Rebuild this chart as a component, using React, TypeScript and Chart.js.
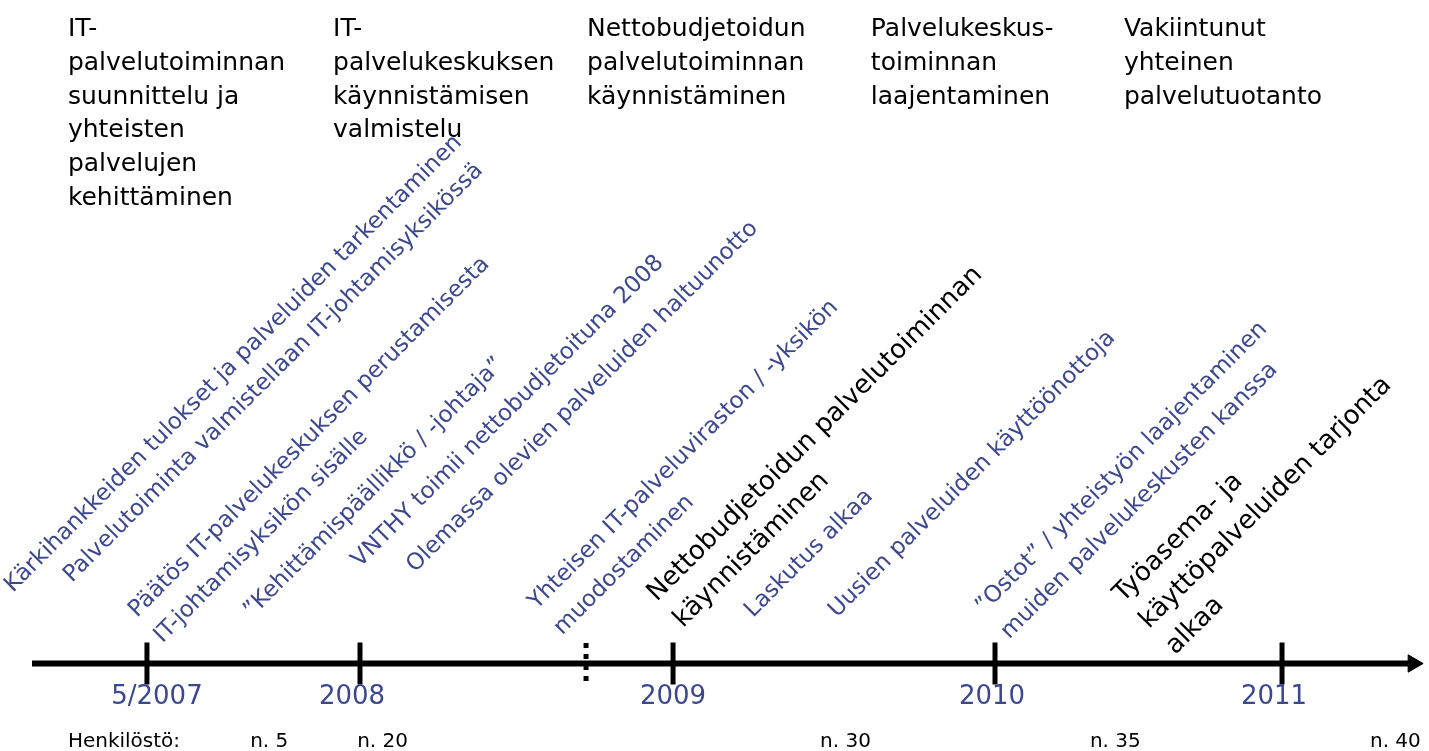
import { useEffect, useRef } from 'react';
import { Chart, registerables } from 'chart.js';

Chart.register(...registerables);

// ---------- DATA ----------
// Phase headings along the top (timeline position of each heading's left edge)
const phaseTitles: string[][] = [
  ['IT-', 'palvelutoiminnan', 'suunnittelu ja', 'yhteisten', 'palvelujen', 'kehittäminen'],
  ['IT-', 'palvelukeskuksen', 'käynnistämisen', 'valmistelu'],
  ['Nettobudjetoidun', 'palvelutoiminnan', 'käynnistäminen'],
  ['Palvelukeskus-', 'toiminnan', 'laajentaminen'],
  ['Vakiintunut', 'yhteinen', 'palvelutuotanto'],
];
const phasePos = [2007.08, 2007.915, 2008.715, 2009.609, 2010.406];

// Events (rotated labels), timeline position of each label's start
const eventTexts: string[][] = [
  ['Kärkihankkeiden tulokset ja palveluiden tarkentaminen'],
  ['Palvelutoiminta valmistellaan IT-johtamisyksikössä'],
  ['Päätös IT-palvelukeskuksen perustamisesta', 'IT-johtamisyksikön sisälle'],
  ['”Kehittämispäällikkö / -johtaja”'],
  ['VNTHY toimii nettobudjetoituna 2008'],
  ['Olemassa olevien palveluiden haltuunotto'],
  ['Yhteisen IT-palveluviraston / -yksikön', 'muodostaminen'],
  ['Nettobudjetoidun palvelutoiminnan', 'käynnistäminen'],
  ['Laskutus alkaa'],
  ['Uusien palveluiden käyttöönottoja'],
  ['”Ostot” / yhteistyön laajentaminen', 'muiden palvelukeskusten kanssa'],
  ['Työasema- ja', 'käyttöpalveluiden tarjonta', 'alkaa'],
];
const eventPos = [2006.907, 2007.093, 2007.298, 2007.66, 2008.0, 2008.173, 2008.557, 2008.935, 2009.238, 2009.502, 2009.965, 2010.403];
const eventMajor = [false, false, false, false, false, false, false, true, false, false, false, true];

// Axis ticks
const tickLabels = ['5/2007', '2008', '2009', '2010', '2011'];
const tickPos = [2007.329, 2008.0, 2008.986, 2010.0, 2010.904];
const dashedPos = [2008.712];
const axisRange = [2006.967, 2011.301];
const arrowPos = [2011.317];

// Staff counts
const staffTitle = 'Henkilöstö:';
const staffTitlePos = 2007.08;
const staffLabels = ['n. 5', 'n. 20', 'n. 30', 'n. 35', 'n. 40'];
const staffPos = [2007.654, 2007.991, 2009.449, 2010.299, 2011.181];

// ---------- LAYOUT / STYLE ----------
const W = 1429;
const H = 751;
const X_MIN = 2006.86614;
const X_MAX = 2011.36693;
const AXIS_Y = 663.5;
const TICK_TOP = 643;
const TICK_BOTTOM = 685;
const HEAD_Y0 = 36;
const HEAD_LH = 33.8;
const EVENT_Y = [593, 583, 618, 618, 568, 573, 610, 602, 618, 618, 614, 603];
const TICKLABEL_Y = 704;
const TICKLABEL_DX = [10, -8, 0, -3, -8];
const STAFF_Y = 747;
const BLUE = '#3b4890';
const FONT = '"DejaVu Sans", Verdana, sans-serif';

const textPlugin = {
  id: 'timelineText',
  afterDatasetsDraw(chart: any) {
    const ctx: CanvasRenderingContext2D = chart.ctx;
    const xs = chart.scales.x;
    ctx.save();
    ctx.textBaseline = 'alphabetic';

    // headings
    ctx.font = `25px ${FONT}`;
    ctx.fillStyle = '#000';
    ctx.textAlign = 'left';
    phaseTitles.forEach((lines, i) => {
      const x = xs.getPixelForValue(phasePos[i]);
      lines.forEach((l, j) => ctx.fillText(l, x, HEAD_Y0 + j * HEAD_LH));
    });

    // rotated events
    eventTexts.forEach((lines, i) => {
      const x = xs.getPixelForValue(eventPos[i]);
      const major = eventMajor[i];
      ctx.save();
      ctx.translate(x, EVENT_Y[i]);
      ctx.rotate(-Math.PI / 4);
      ctx.font = `${major ? 26 : 23}px ${FONT}`;
      ctx.fillStyle = major ? '#000' : BLUE;
      const lh = major ? 37 : 36;
      lines.forEach((l, j) => ctx.fillText(l, 0, j * lh));
      ctx.restore();
    });

    // tick labels
    ctx.font = `26px ${FONT}`;
    ctx.fillStyle = BLUE;
    ctx.textAlign = 'center';
    tickLabels.forEach((t, i) =>
      ctx.fillText(t, xs.getPixelForValue(tickPos[i]) + TICKLABEL_DX[i], TICKLABEL_Y)
    );

    // staff row
    ctx.font = `20px ${FONT}`;
    ctx.fillStyle = '#000';
    ctx.textAlign = 'left';
    ctx.fillText(staffTitle, xs.getPixelForValue(staffTitlePos), STAFF_Y);
    staffLabels.forEach((t, i) => ctx.fillText(t, xs.getPixelForValue(staffPos[i]), STAFF_Y));
    ctx.restore();
  },
};

export default function App() {
  const ref = useRef<HTMLCanvasElement>(null);
  useEffect(() => {
    document.body.style.margin = '0';
    const canvas = ref.current!;
    const chart = new Chart(canvas, {
      type: 'scatter',
      data: {
        datasets: [
          {
            data: axisRange.map((x) => ({ x, y: AXIS_Y })),
            showLine: true,
            borderColor: '#000',
            borderWidth: 6,
            pointRadius: 0,
          },
          {
            data: arrowPos.map((x) => ({ x, y: AXIS_Y })),
            pointStyle: 'triangle',
            pointRotation: 90,
            pointRadius: 10,
            pointBackgroundColor: '#000',
            pointBorderColor: '#000',
            pointBorderWidth: 1,
          },
          {
            data: tickPos.map((x) => ({ x, y: AXIS_Y })),
            pointStyle: 'line',
            pointRotation: 90,
            pointRadius: 21,
            pointBorderColor: '#000',
            pointBorderWidth: 5,
          },
          ...dashedPos.map((x) => ({
            data: [
              { x, y: TICK_TOP },
              { x, y: TICK_BOTTOM },
            ],
            showLine: true,
            borderColor: '#000',
            borderWidth: 5,
            borderDash: [5, 6],
            pointRadius: 0,
          })),
        ],
      } as any,
      options: {
        responsive: false,
        animation: false,
        events: [],
        layout: { padding: 0, autoPadding: false },
        plugins: { legend: { display: false }, tooltip: { enabled: false } },
        scales: {
          x: { type: 'linear', display: false, min: X_MIN, max: X_MAX },
          y: { type: 'linear', display: false, min: 0, max: H, reverse: true },
        },
      } as any,
      plugins: [textPlugin],
    });
    return () => chart.destroy();
  }, []);
  return <canvas ref={ref} width={W} height={H} style={{ display: 'block' }} />;
}
